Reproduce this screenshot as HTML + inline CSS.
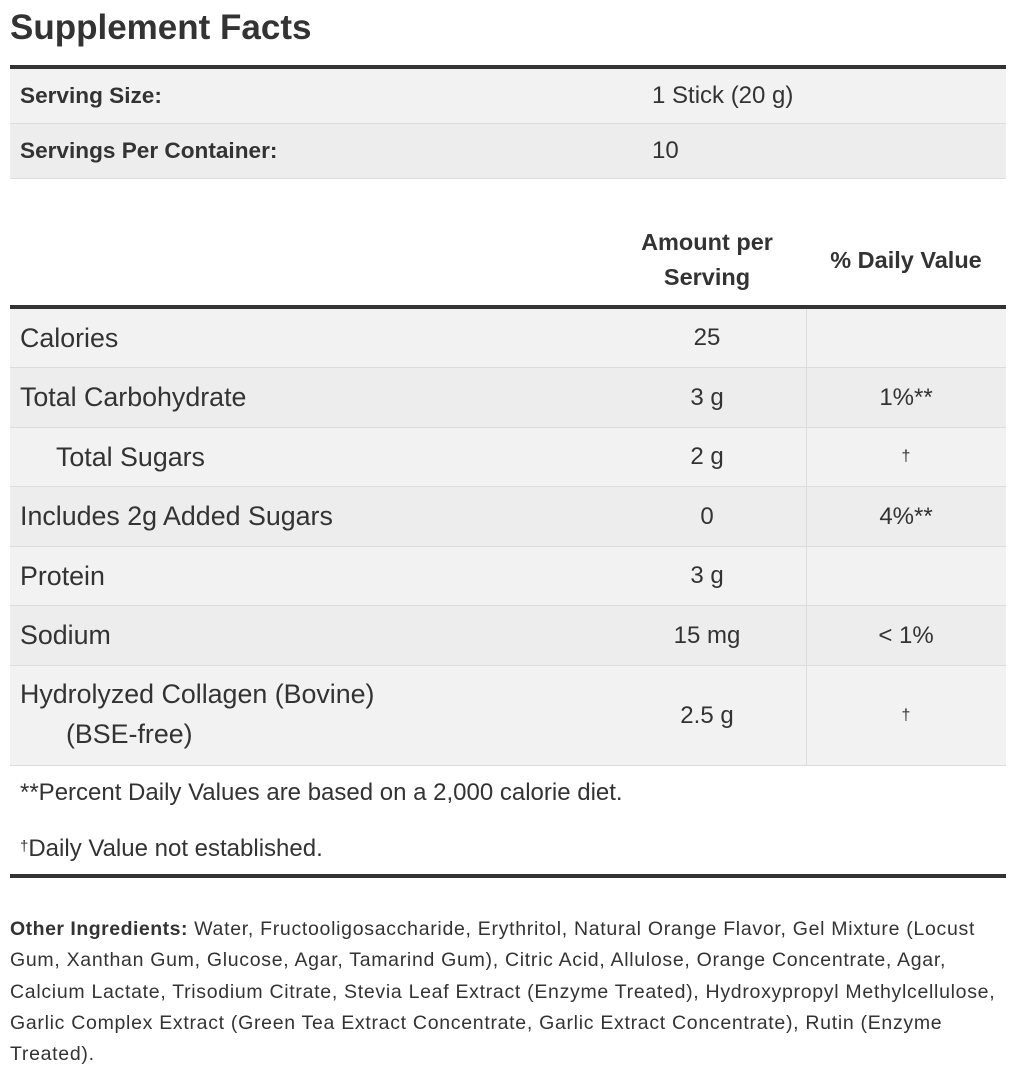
<!DOCTYPE html>
<html>
<head>
<meta charset="utf-8">
<style>
  html,body{margin:0;padding:0;background:#fff;}
  body{width:1015px;height:1077px;position:relative;overflow:hidden;font-family:"Liberation Sans",Arial,sans-serif;color:#333;}
  .a{position:absolute;white-space:nowrap;}
  .bg{position:absolute;left:10px;width:996px;}
  .odd{background:#f2f2f2;}
  .even{background:#ededed;}
  .bl{position:absolute;left:10px;width:996px;height:1px;background:#dcdcdc;}
  .thick{position:absolute;left:10px;width:996px;height:4px;background:#333;}
  .lab{position:absolute;left:20px;white-space:nowrap;font-size:26.8px;}
  .val{position:absolute;left:608px;width:198px;text-align:center;white-space:nowrap;font-size:24px;}
  .dv{position:absolute;left:806px;width:200px;text-align:center;white-space:nowrap;font-size:24px;}
  .dag{font-size:16px;}
</style>
</head>
<body>
  <div class="a" style="left:10px;top:8px;font-size:35px;font-weight:bold;line-height:40px;">Supplement Facts</div>

  <div class="thick" style="top:65px;"></div>
  <div class="bg odd" style="top:69px;height:54px;"></div>
  <div class="bl" style="top:123px;"></div>
  <div class="bg even" style="top:124px;height:54px;"></div>
  <div class="bl" style="top:178px;"></div>

  <div class="a" style="left:20px;top:69px;height:54px;line-height:54px;font-size:22.6px;font-weight:bold;">Serving Size:</div>
  <div class="a" style="left:652px;top:69px;height:54px;line-height:54px;font-size:24px;">1 Stick (20 g)</div>
  <div class="a" style="left:20px;top:124px;height:54px;line-height:54px;font-size:22.6px;font-weight:bold;">Servings Per Container:</div>
  <div class="a" style="left:652px;top:124px;height:54px;line-height:54px;font-size:24px;">10</div>

  <div class="a" style="left:608px;width:198px;top:225px;text-align:center;font-size:23.5px;font-weight:bold;line-height:35px;">Amount per<br>Serving</div>
  <div class="a" style="left:806px;width:200px;top:243px;text-align:center;font-size:23.5px;font-weight:bold;line-height:35px;">% Daily Value</div>

  <div class="thick" style="top:305px;"></div>

  <div class="bg odd" style="top:309px;height:58px;"></div>
  <div class="bl" style="top:367px;"></div>
  <div class="bg even" style="top:368px;height:59px;"></div>
  <div class="bl" style="top:427px;"></div>
  <div class="bg odd" style="top:428px;height:58px;"></div>
  <div class="bl" style="top:486px;"></div>
  <div class="bg even" style="top:487px;height:59px;"></div>
  <div class="bl" style="top:546px;"></div>
  <div class="bg odd" style="top:547px;height:58px;"></div>
  <div class="bl" style="top:605px;"></div>
  <div class="bg even" style="top:606px;height:59px;"></div>
  <div class="bl" style="top:665px;"></div>
  <div class="bg odd" style="top:666px;height:99px;"></div>
  <div class="bl" style="top:765px;"></div>

  <div style="position:absolute;left:806px;top:309px;width:1px;height:457px;background:#dcdcdc;"></div>

  <!-- row 1 -->
  <div class="lab" style="top:309px;line-height:58px;">Calories</div>
  <div class="val" style="top:309px;line-height:58px;">25</div>
  <!-- row 2 -->
  <div class="lab" style="top:368px;line-height:59px;">Total Carbohydrate</div>
  <div class="val" style="top:368px;line-height:59px;">3 g</div>
  <div class="dv" style="top:368px;line-height:59px;">1%**</div>
  <!-- row 3 -->
  <div class="lab" style="left:56px;top:428px;line-height:58px;">Total Sugars</div>
  <div class="val" style="top:428px;line-height:58px;">2 g</div>
  <div class="dv" style="top:428px;line-height:52px;"><span class="dag">†</span></div>
  <!-- row 4 -->
  <div class="lab" style="top:487px;line-height:59px;">Includes 2g Added Sugars</div>
  <div class="val" style="top:487px;line-height:59px;">0</div>
  <div class="dv" style="top:487px;line-height:59px;">4%**</div>
  <!-- row 5 -->
  <div class="lab" style="top:547px;line-height:58px;">Protein</div>
  <div class="val" style="top:547px;line-height:58px;">3 g</div>
  <!-- row 6 -->
  <div class="lab" style="top:606px;line-height:59px;">Sodium</div>
  <div class="val" style="top:606px;line-height:59px;">15 mg</div>
  <div class="dv" style="top:606px;line-height:59px;">&lt; 1%</div>
  <!-- row 7 -->
  <div class="lab" style="top:674px;line-height:40px;">Hydrolyzed Collagen (Bovine)</div>
  <div class="lab" style="left:66px;top:714px;line-height:40px;">(BSE-free)</div>
  <div class="val" style="top:666px;line-height:99px;">2.5 g</div>
  <div class="dv" style="top:666px;line-height:93px;"><span class="dag">†</span></div>

  <div class="a" style="left:20px;top:773px;line-height:40px;font-size:24px;">**Percent Daily Values are based on a 2,000 calorie diet.</div>
  <div class="a" style="left:20px;top:827px;line-height:40px;font-size:24px;"><span style="font-size:15px;vertical-align:5px;">†</span>Daily Value not established.</div>

  <div class="thick" style="top:874px;"></div>

  <div class="a" style="left:10px;top:914px;font-size:19.5px;line-height:31.3px;letter-spacing:0.7px;">
    <b style="letter-spacing:0.5px;">Other Ingredients:</b> Water, Fructooligosaccharide, Erythritol, Natural Orange Flavor, Gel Mixture (Locust<br>
    Gum, Xanthan Gum, Glucose, Agar, Tamarind Gum), Citric Acid, Allulose, Orange Concentrate, Agar,<br>
    Calcium Lactate, Trisodium Citrate, Stevia Leaf Extract (Enzyme Treated), Hydroxypropyl Methylcellulose,<br>
    Garlic Complex Extract (Green Tea Extract Concentrate, Garlic Extract Concentrate), Rutin (Enzyme<br>
    Treated).
  </div>
</body>
</html>
